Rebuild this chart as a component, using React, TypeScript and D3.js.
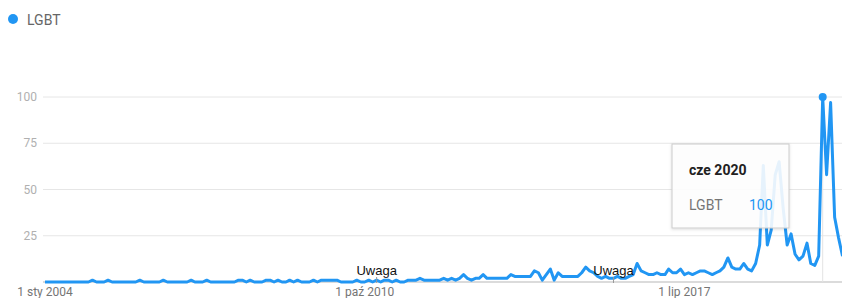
import React from "react";
import * as d3 from "d3";

const W = 842;
const H = 298;

const seriesName = "LGBT";
const startMonth = "2004-01-01";
// Monthly interest values, Jan 2004 onward
const values: number[] = [
  0, 0, 0, 0, 0, 0, 0, 0, 0, 0,
  0, 0, 1, 0, 0, 0, 1, 0, 0, 0,
  0, 0, 0, 0, 1, 0, 0, 0, 0, 0,
  1, 0, 0, 0, 0, 0, 0, 1, 0, 0,
  0, 1, 0, 0, 0, 0, 0, 0, 0, 1,
  1, 0, 1, 0, 0, 0, 1, 1, 0, 1,
  0, 0, 1, 0, 1, 0, 0, 0, 1, 0,
  1, 1, 1, 1, 1, 0, 0, 0, 0, 1,
  0, 0, 1, 0, 1, 0, 1, 1, 0, 1,
  0, 0, 1, 1, 1, 2, 1, 1, 1, 1,
  1, 2, 1, 2, 1, 2, 4, 2, 1, 2,
  2, 4, 2, 2, 2, 2, 2, 2, 4, 3,
  3, 3, 3, 3, 6, 5, 1, 4, 7, 1,
  5, 3, 3, 3, 3, 3, 5, 8, 6, 5,
  3, 2, 3, 2, 2, 3, 2, 2, 3, 4,
  10, 6, 5, 4, 4, 5, 4, 4, 7, 5,
  5, 7, 4, 5, 4, 5, 6, 6, 5, 4,
  5, 6, 8, 13, 8, 7, 7, 10, 7, 6,
  10, 20, 63, 20, 28, 58, 65, 40, 20, 26,
  15, 12, 14, 21, 10, 9, 14, 100, 58, 97,
  35, 24, 14,
];

const yTicks = [25, 50, 75, 100];
const xTickDates = ["2004-01-01", "2010-10-01", "2017-07-01"];
const xTickLabels = ["1 sty 2004", "1 paź 2010", "1 lip 2017"];
const noteDates = ["2011-01-01", "2016-01-01"];
const noteLabels = ["Uwaga", "Uwaga"];
const tooltipDate = "2020-06-01";
const tooltipTitle = "cze 2020";

const BLUE = "#2196f3";

export default function App() {
  const parse = d3.utcParse("%Y-%m-%d");
  const start = parse(startMonth)!;
  const data = values.map((v, i) => ({ date: d3.utcMonth.offset(start, i), v }));
  const tipDate = parse(tooltipDate)!;

  const x = d3.scaleUtc().domain([start, tipDate]).range([45, 822.7]);
  const y = d3.scaleLinear().domain([0, 100]).range([282, 97]);

  const line = d3
    .line<{ date: Date; v: number }>()
    .x((d) => x(d.date))
    .y((d) => y(d.v))
    .curve(d3.curveLinear);

  const tip = data.find((d) => +d.date === +tipDate)!;
  const tipX = x(tip.date);
  const tipY = y(tip.v);

  return (
    <svg
      width={W}
      height={H}
      style={{ position: "absolute", left: 0, top: 0, background: "#fff" }}
      fontFamily="Roboto, Arial, sans-serif"
    >
      <defs>
        <filter id="shadow" x="-10%" y="-10%" width="130%" height="130%">
          <feDropShadow dx="0" dy="1" stdDeviation="1.5" floodColor="#000" floodOpacity="0.15" />
        </filter>
        <clipPath id="plotclip">
          <rect x={0} y={0} width={W} height={H} />
        </clipPath>
      </defs>

      {/* legend */}
      <circle cx={13} cy={19} r={5} fill={BLUE} />
      <text x={27} y={24.5} fontSize={14} fill="#666">
        {seriesName}
      </text>

      {/* grid */}
      {yTicks.map((t) => (
        <g key={t}>
          <line x1={43} x2={W} y1={y(t)} y2={y(t)} stroke="#e6e6e6" strokeWidth={1} />
          <text x={37} y={y(t)} dy="0.35em" textAnchor="end" fontSize={12} fill="#b0b0b0">
            {t}
          </text>
        </g>
      ))}
      <line x1={43} x2={W} y1={282} y2={282} stroke="#cfcfcf" strokeWidth={1.5} />

      {/* x labels */}
      {xTickDates.map((d, i) => (
        <text key={d} x={x(parse(d)!)} y={296} textAnchor="middle" fontSize={12} fill="#757575">
          {xTickLabels[i]}
        </text>
      ))}

      {/* hover line */}
      <line x1={tipX} x2={tipX} y1={tipY} y2={282} stroke="#e3e3e3" strokeWidth={1} />

      {/* series */}
      <path
        d={line(data) || ""}
        fill="none"
        stroke={BLUE}
        strokeWidth={3}
        strokeLinejoin="round"
        clipPath="url(#plotclip)"
      />

      {/* notes */}
      {noteDates.map((d, i) => {
        const nx = x(parse(d)!);
        return (
          <g key={d}>
            <line x1={nx} x2={nx} y1={277} y2={283} stroke="#999" strokeWidth={1} />
            <text
              x={nx}
              y={275}
              textAnchor="middle"
              fontSize={13}
              fontFamily="Arial, 'Liberation Sans', sans-serif"
              fill="#111"
            >
              {noteLabels[i]}
            </text>
          </g>
        );
      })}

      <circle cx={tipX} cy={tipY} r={4} fill={BLUE} />

      {/* tooltip */}
      <g>
        <rect
          x={672}
          y={144}
          width={117}
          height={84}
          fill="#fff"
          fillOpacity={0.88}
          stroke="#cccccc"
          strokeWidth={1}
          filter="url(#shadow)"
        />
        <text x={689} y={175} fontSize={14} fontWeight="bold" fill="#212121">
          {tooltipTitle}
        </text>
        <text x={689} y={210} fontSize={14} fill="#757575">
          {seriesName}
        </text>
        <text x={749} y={210} fontSize={14} fill={BLUE}>
          {tip.v}
        </text>
      </g>
    </svg>
  );
}
